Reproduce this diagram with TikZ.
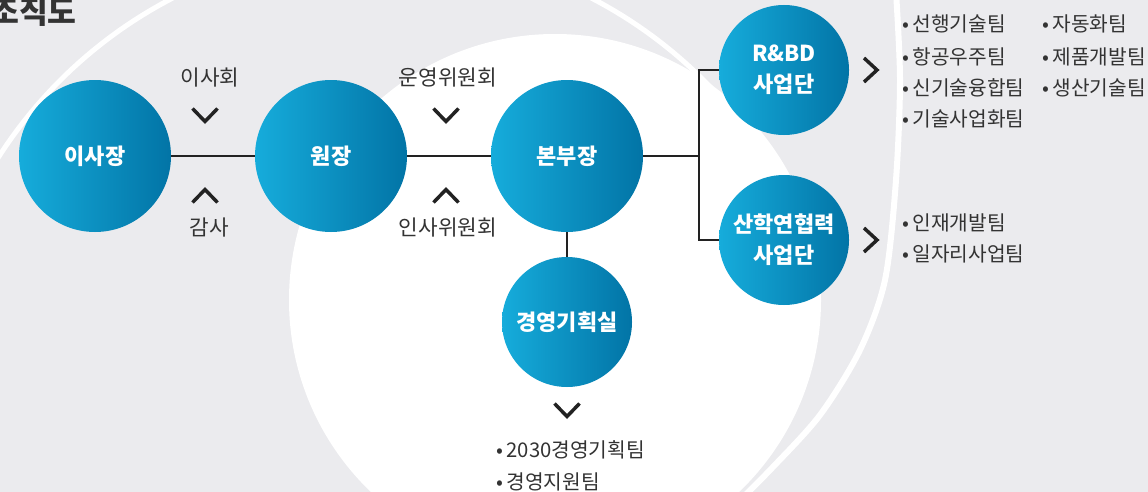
\documentclass[tikz,border=0pt]{standalone}
\usepackage{fontspec}
\newfontfamily\kr{Noto Sans CJK KR}
\definecolor{bg}{RGB}{235,235,238}
\definecolor{cl}{RGB}{22,172,219}
\definecolor{cr}{RGB}{2,116,166}
\definecolor{txt}{RGB}{51,51,51}
\definecolor{ln}{RGB}{34,34,34}
\begin{document}
\begin{tikzpicture}[x=0.75pt,y=-0.75pt,
  org/.style={circle, minimum size=114pt, inner sep=0pt, left color=cl, right color=cr,
    text=white, font=\kr\bfseries\fontsize{16.5}{23}\selectfont, align=center},
  orgs/.style={org, minimum size=97.5pt},
  lbl/.style={text=txt, font=\kr\fontsize{16}{19}\selectfont, inner sep=0pt},
  item/.style={text=txt, font=\kr\fontsize{15.2}{19}\selectfont, anchor=west, inner sep=0pt},
  conn/.style={draw=ln, line width=1.5pt},
  chev/.style={draw=ln, line width=2.6pt, line join=miter},
  ring/.style={draw=white, line width=3.75pt}]
\useasboundingbox (0,0) rectangle (1148,492);
\clip (0,0) rectangle (1148,492);
% background
\fill[bg] (0,0) rectangle (1148,492);
\fill[white] (555,300) circle[radius=199.5pt];
\draw[ring] plot[domain=-150:-15, samples=120] ({382+455*cos(\x)}, {402+455*sin(\x)});
\draw[ring, line width=4.5pt] plot[smooth] coordinates {(896,-8) (900,80) (896,180) (885,280) (860,350) (820,415) (772,468) (735,505)};
% title
\node[text=txt, font=\kr\bfseries\fontsize{23.5}{26}\selectfont, anchor=east, inner sep=0pt] (title) at (77,12) {조직도};
% organisation nodes
\node[org] (A) at (95,156) {이사장};
\node[org] (B) at (331,156) {원장};
\node[org] (C) at (567,156) {본부장};
\node[orgs] (D) at (567,322) {경영기획실};
\node[orgs] (E) at (784,70) {R\&BD\\사업단};
\node[orgs] (F) at (784,240) {산학연협력\\사업단};
\coordinate (J) at (699,156);
% connectors
\draw[conn] (A) -- (B);
\draw[conn] (B) -- (C);
\draw[conn] (C) -- (J);
\draw[conn] (E.west) -| (J) |- (F.west);
\draw[conn] (C.south) -- (D.north);
% side labels
\node[lbl] (l1) at (210,78) {이사회};
\node[lbl] (l2) at (209,228) {감사};
\node[lbl] (l3) at (448,78) {운영위원회};
\node[lbl] (l4) at (448,228) {인사위원회};
% chevrons
\draw[chev] (192.5,108.5) -- (205,121.5) -- (217.5,108.5);
\draw[chev] (192.5,202.5) -- (205,189.5) -- (217.5,202.5);
\draw[chev] (433.5,108.5) -- (446,121.5) -- (458.5,108.5);
\draw[chev] (433.5,202.5) -- (446,189.5) -- (458.5,202.5);
\draw[chev] (554.5,403.5) -- (567,416.5) -- (579.5,403.5);
\draw[chev] (864,58) -- (877,70) -- (864,82);
\draw[chev] (864,228) -- (877,240) -- (864,252);
% lists
\node[item] (i1) at (902,24) {•\,선행기술팀};
\node[item] (i2) at (902,57) {•\,항공우주팀};
\node[item] (i3) at (902,88) {•\,신기술융합팀};
\node[item] (i4) at (902,119) {•\,기술사업화팀};
\node[item] (i5) at (1042,24) {•\,자동화팀};
\node[item] (i6) at (1042,57) {•\,제품개발팀};
\node[item] (i7) at (1042,88) {•\,생산기술팀};
\node[item] (i8) at (902,223) {•\,인재개발팀};
\node[item] (i9) at (902,254) {•\,일자리사업팀};
\node[item] (i10) at (496,450) {•\,2030경영기획팀};
\node[item] (i11) at (496,482) {•\,경영지원팀};
\end{tikzpicture}
\end{document}
